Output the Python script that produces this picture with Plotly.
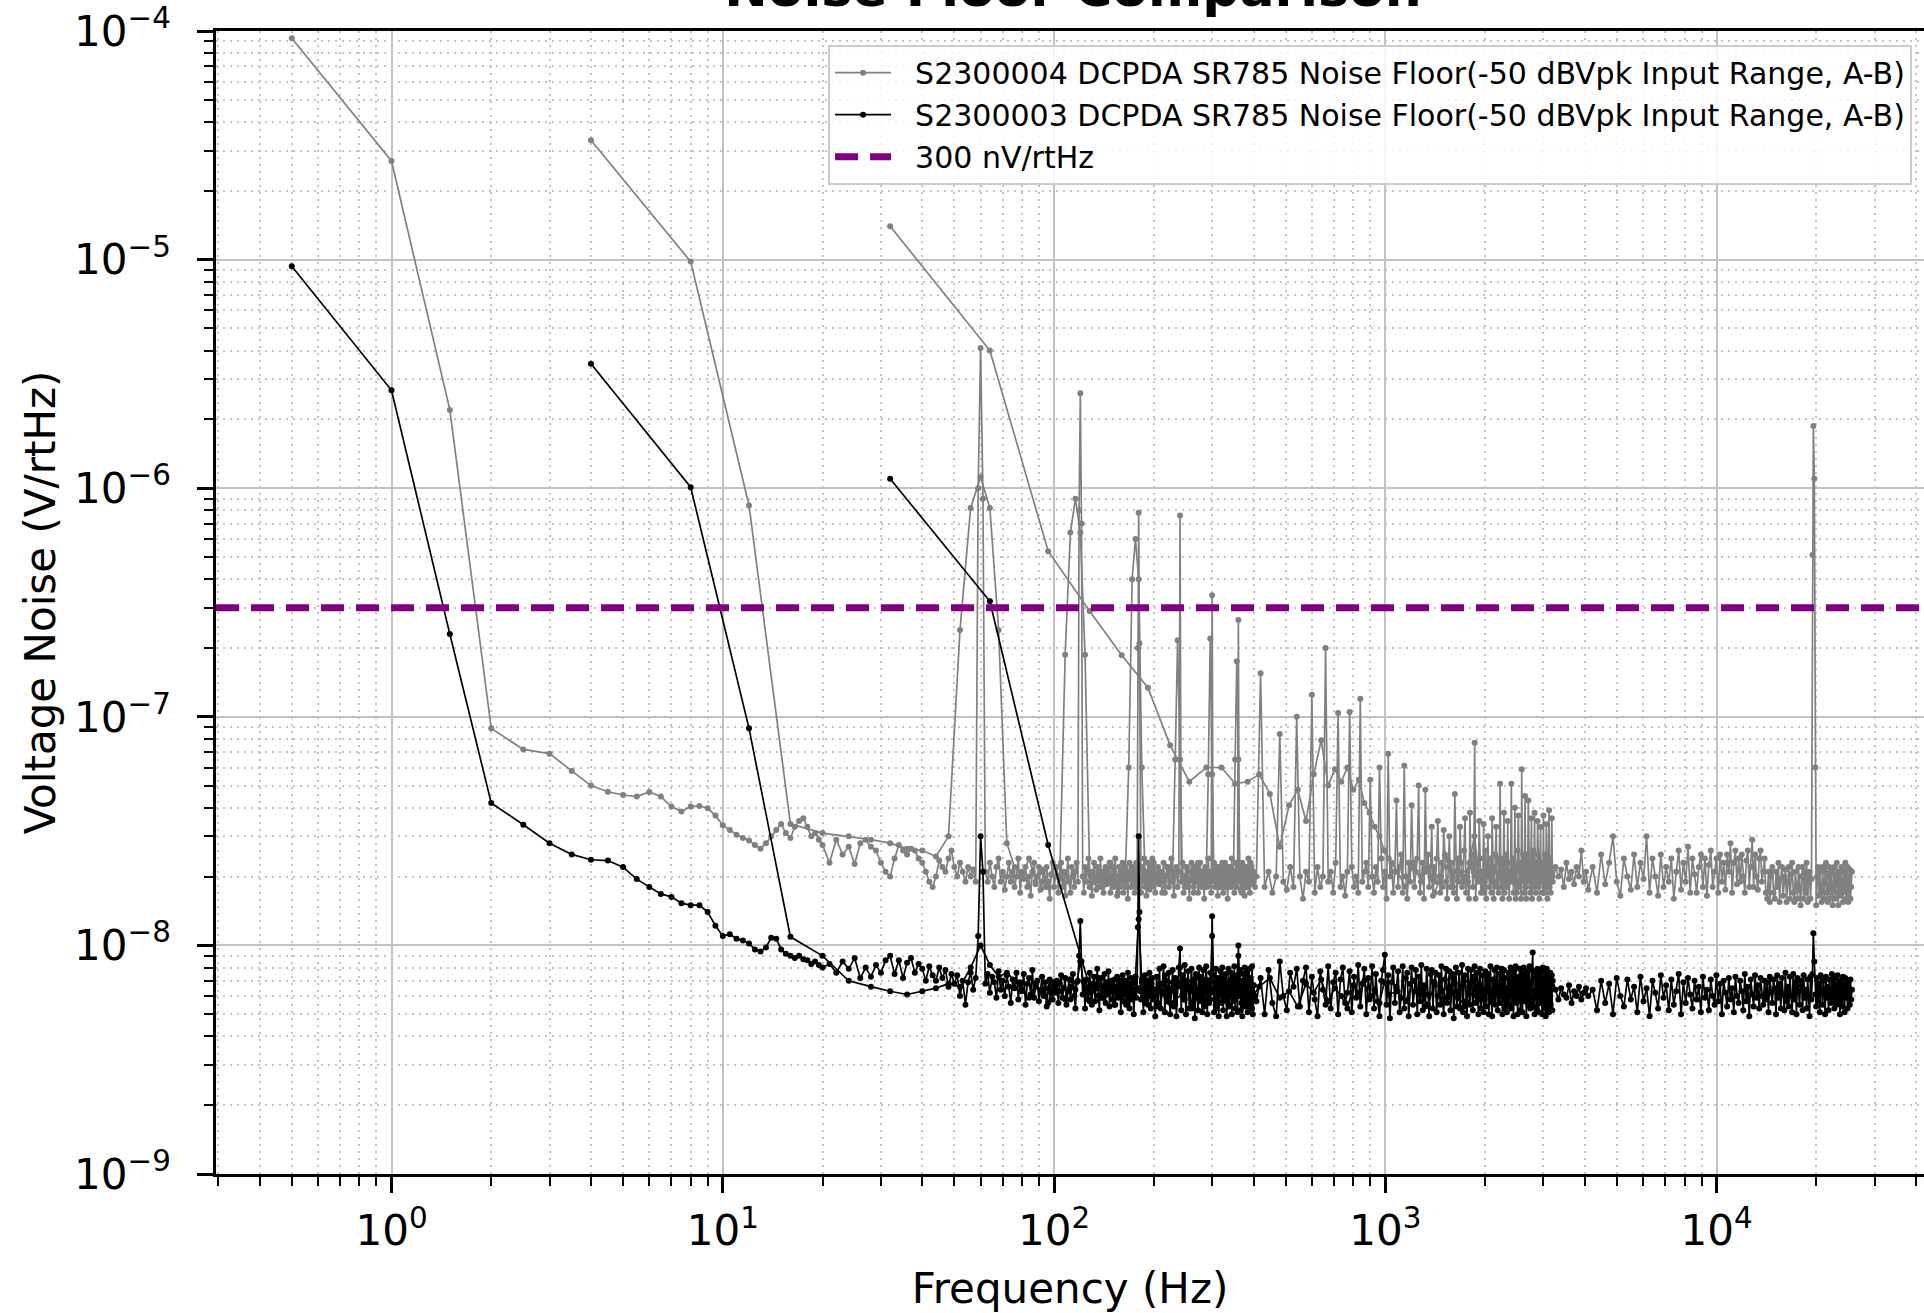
import math
import plotly.graph_objects as go

# ---------------- data (values in nV/rtHz) ----------------
# Segment A: 0.5 Hz resolution span (0.5 .. 400 Hz), shown here as three sub-grids
A1_START, A1_STEP = 0.5, 0.5
A2_START, A2_STEP = 21, 1
A3_START, A3_STEP = 202, 2
# Segment B: 4 Hz resolution span (4 .. 3200 Hz)
B1_START, B1_STEP = 4, 4
B2_START, B2_STEP = 420, 12
# Segment C: 32 Hz resolution span (32 .. 25600 Hz)
C1_START, C1_STEP = 32, 32
C2_START, C2_STEP = 1088, 64
C3_START, C3_STEP = 4224, 128

GRAY_A1 = [93000, 27000, 2200, 89, 72, 69, 58, 50, 47, 45.5,
           44.8, 46.9, 44.8, 40.5, 38.5, 40.5, 40.7, 39.8, 37, 33.5,
           32, 30.5, 29.5, 28.8, 27.5, 26.5, 28, 30, 32, 34,
           31, 29.5, 33, 35, 36, 33, 30, 31, 29, 27.5]
GRAY_A2 = [23, 29, 25, 27, 22.7, 28, 29, 27, 26, 23,
           21, 20, 24, 27.5, 26, 25, 26.5, 26, 24, 23,
           21, 19, 18, 20, 23.5, 22, 21, 24, 26, 22,
           20, 23, 21, 19, 22, 20, 21.5, 19, 1000, 4100,
           900, 21, 19, 23, 20, 18, 22, 24, 19, 21,
           17.5, 20, 23, 19, 21, 18, 20, 24, 17, 21,
           19.5, 22, 18, 20, 16.5, 21, 23, 18.5, 20, 22,
           17.5, 19, 21.5, 18, 22, 19, 16, 20.5, 23, 18,
           20, 22, 17, 19.5, 23, 18, 21, 16.5, 20, 24,
           19, 17, 22, 20, 18, 21, 23, 19, 800, 2600,
           700, 20, 17, 22, 19, 21, 24, 18, 20, 16.5,
           21, 23, 19, 17.5, 22, 20, 18, 24, 19, 21,
           17, 20, 22, 18.5, 21, 19, 23, 17, 20, 22,
           18, 21, 24, 19, 16.5, 20, 22, 18, 21, 19,
           23, 17, 20, 22, 18, 21, 16, 19.5, 23, 20,
           18, 22, 19, 21, 17, 20, 23, 18, 200, 780,
           210, 20, 17, 22, 19, 21, 24, 18, 20, 16.5,
           21, 23, 19, 17.5, 22, 20, 18, 24, 19, 21]
GRAY_A3 = [17, 20, 22, 18.5, 21, 19, 23, 17, 20, 22,
           18, 21, 24, 19, 16.5, 20, 22, 18, 21, 760,
           19, 23, 17, 20, 22, 18, 21, 16, 19.5, 23,
           20, 18, 22, 19, 21, 17, 20, 23, 18, 21,
           19, 16, 22, 20, 18, 24, 19, 21, 17, 340,
           20, 23, 18, 21, 19, 16.5, 22, 20, 18, 21,
           23, 17, 20, 22, 18, 21, 16, 19, 22, 20,
           18, 24, 19, 21, 17, 20, 23, 18, 21, 265,
           19, 22, 17.5, 20, 23, 18, 21, 16.5, 20, 22,
           18, 21, 24, 19, 17, 20, 22, 18.5, 21, 19]
GRAY_B1 = [33300, 9800, 840, 34, 31, 30, 29, 28, 26.5, 26,
           24.5, 30, 240, 820, 1120, 820, 240, 28, 22, 20,
           24, 19, 21, 18, 22, 20, 187, 640, 900, 640,
           187, 21, 19, 22, 18, 20, 23, 19, 17, 21,
           20, 60, 400, 600, 400, 60, 21, 18, 20, 23,
           19, 21, 17, 20, 22, 19, 21, 65, 216, 65,
           20, 18, 22, 19, 21, 17, 20, 23, 19, 21,
           18, 20, 56, 220, 56, 19, 22, 20, 18, 21,
           19, 23, 18, 20, 22, 19, 21, 65, 175, 65,
           20, 17, 22, 19, 21, 18, 20, 23, 19, 21,
           18, 20]
GRAY_B2 = [155, 18, 21, 17, 20,   84, 19, 17.5, 22, 18,   100, 20, 16, 21, 19,
           125, 17, 22, 18, 20,   200, 19, 21, 17, 23,    104, 18, 20, 16.5, 21,
           105, 22, 18, 20, 17,   120, 19, 21, 23, 18,    53, 20, 17, 22, 19,
           60, 24, 18, 21, 16,    69, 20, 23, 17, 21,     43, 18, 22, 25, 17,
           61, 20, 16, 23, 19,    41, 22, 18, 21, 24,     50, 17, 20, 23, 16,
           48, 21, 25, 18, 20,    33, 16.5, 22, 19, 24,   35, 20, 17, 23, 18,
           32, 25, 19, 16, 22,    30, 18, 23, 20, 17,     46, 21, 16, 24, 19,
           33, 23, 18, 20, 26,    36, 17, 21, 19, 16,     38, 22, 25, 18, 21,
           77, 16, 20, 23, 19,    35, 24, 17, 21, 18,     34, 19, 26, 16, 22,
           30, 20, 18, 24, 17,    36, 22, 16, 19, 25,     33, 18, 21, 17, 23,
           51, 20, 24, 16, 19,    38, 17, 22, 25, 18,     35, 21, 16, 20, 23,
           51, 19, 24, 17, 21,    40, 16, 22, 19, 26,     37, 23, 18, 21, 16,
           59, 20, 25, 17, 22,    45, 18, 16, 23, 20,     43, 24, 19, 17, 21,
           36, 16, 22, 26, 18,    38, 20, 17, 23, 19,     35, 25, 18, 16, 22,
           33, 19, 23, 20, 17,    37, 17, 21, 25, 18,     34, 22, 16, 19, 24,
           39, 18, 23, 17, 21,    36, 20]
GRAY_C1 = [14000, 4000, 530, 290, 186, 134, 75, 52, 60, 60,
           51, 52, 56, 46, 27, 41, 48, 35, 56, 79,
           50, 59, 52, 60, 48, 53, 42, 38, 33, 30,
           26, 24]
GRAY_C2 = [21, 18, 23, 19, 22, 17, 20, 24, 18, 21,
           19, 23, 30, 20, 17, 22, 19, 24, 18, 21,
           20, 23, 17, 22, 19, 25, 18, 21, 19, 23,
           17, 21, 24, 19, 22, 20, 21.5, 18, 23, 19.5,
           21, 18.5, 22, 20, 26, 19, 21, 17.5]
GRAY_C3 = [22, 17, 25, 18.5, 23, 30, 19, 16.5, 24, 20, 17.5, 25,
           18, 23, 19.5, 30, 17, 24, 20, 16.5, 25, 18, 22, 19,
           24, 16, 21, 26, 17.5, 23, 19, 27, 17, 24, 20.5, 17,
           22, 25, 18, 24, 16.5, 22.5, 26, 18, 21, 24, 17, 25,
           19, 23, 17.5, 25, 21, 28, 17, 23, 26, 18.5, 24, 19,
           25, 20, 17, 23.5, 26, 18, 22, 29, 18, 25, 20, 17.5,
           24, 26, 19, 21, 24, 17, 16, 21, 15.5, 20, 22, 17,
           16, 21, 18, 23, 15.5, 19.5, 22, 16.5, 20, 21.5, 15.5, 19,
           22, 16, 20.5, 23, 17, 15.5, 21, 18, 16, 22, 17.5, 15,
           20, 22, 16, 21, 17, 23, 15.5, 20, 21, 16, 19.5, 510,
           1870, 1100, 60, 15, 20, 22, 16.5, 21, 17, 15.5, 22, 18.5,
           16, 21, 23, 17, 15.5, 20, 22, 16, 21, 17.5, 15, 20.5,
           22, 16, 20, 23, 17, 15, 21, 19.5, 16.5, 22, 17, 15.5,
           21, 18, 23, 16, 17.5, 22, 15.5, 20, 21.5, 16, 18, 21]

BLACK_A1 = [9350, 2680, 230, 42, 33.7, 28, 25, 23.7, 23.5, 22,
            19.5, 18, 16.8, 16.3, 15.3, 15, 15, 14, 12.2, 11,
            11.2, 10.7, 10.5, 10.2, 9.6, 9.4, 9.8, 10.8, 10.7, 9.6,
            9.2, 9.0, 8.8, 9.0, 8.7, 8.6, 8.3, 8.5, 8.2, 8.0]
BLACK_A2 = [8.3, 7.6, 8.5, 7.9, 8.8, 7.2, 8.0, 7.3, 8.2, 7.6,
            8.6, 9.0, 7.5, 8.6, 7.2, 8.4, 8.8, 7.6, 8.3, 7.9,
            7.0, 8.1, 7.4, 7.0, 8.0, 7.2, 7.8, 6.6, 7.5, 6.8,
            7.4, 6.0, 7.0, 5.5, 6.9, 7.6, 6.4, 7.2, 11, 30,
            21, 6.8, 7.5, 6.2, 7.3, 6.9, 5.9, 7.7, 6.4, 7.0,
            6.0, 7.4, 6.6, 5.6, 7.1, 6.5, 7.6, 5.8, 6.9, 6.3,
            7.5, 5.5, 6.8, 7.2, 6.1, 7.8, 5.9, 6.6, 7.0, 5.7,
            6.4, 7.3, 6.0, 6.9, 5.4, 6.5, 7.1, 6.2, 5.8, 6.7,
            6.2, 7.0, 5.6, 6.8, 7.4, 5.9, 6.5, 7.2, 5.5, 6.3,
            7.1, 5.8, 6.6, 7.5, 6.0, 5.3, 6.9, 7.0, 9.0, 12.8,
            8.5, 6.1, 6.9, 5.3, 7.1, 6.4, 5.8, 7.6, 6.2, 5.5,
            6.8, 7.3, 5.7, 6.5, 7.9, 6.0, 5.2, 6.7, 7.2, 5.9,
            6.4, 7.5, 5.6, 6.9, 6.1, 7.7, 5.4, 6.6, 7.0, 5.8,
            6.3, 7.1, 5.5, 6.5, 7.3, 5.9, 6.2, 7.0, 5.1, 6.8,
            7.4, 5.7, 6.2, 7.0, 5.5, 6.6, 7.6, 6.0, 5.3, 6.8,
            7.2, 5.8, 6.4, 5.0, 6.9, 7.3, 5.9, 6.5, 12, 30,
            14, 6.3, 5.8, 7.1, 6.5, 5.1, 6.9, 7.4, 5.7, 6.2,
            7.0, 5.5, 6.6, 7.6, 6.0, 5.3, 6.8, 7.2, 5.8, 6.4]
BLACK_A3 = [4.9, 7.3, 5.6, 7.9, 5.3, 6.8, 8.1, 5.1, 7.0, 5.7,
            7.6, 5.0, 6.5, 7.8, 5.4, 7.2, 4.9, 6.9, 8.0, 9.7,
            5.2, 7.4, 5.8, 8.2, 5.0, 6.7, 7.7, 5.3, 6.3, 7.9,
            5.5, 7.1, 4.8, 7.5, 6.0, 5.2, 8.0, 5.7, 7.3, 5.1,
            7.8, 5.4, 6.6, 8.1, 5.0, 7.0, 5.6, 7.6, 6.2, 13.4,
            7.4, 5.1, 6.9, 7.9, 5.3, 7.2, 4.9, 6.5, 7.7, 5.6,
            8.0, 5.2, 7.1, 5.8, 7.5, 4.9, 6.8, 7.9, 5.4, 6.3,
            7.6, 5.0, 7.3, 5.7, 8.1, 5.3, 6.6, 7.4, 5.1, 10,
            6.0, 7.8, 5.2, 7.0, 4.9, 7.5, 5.8, 8.0, 5.4, 6.9,
            7.7, 5.1, 6.4, 7.9, 5.3, 7.2, 5.6, 8.1, 5.0, 6.7]
BLACK_B1 = [3500, 1010, 89, 10.9, 9.0, 7.0, 6.6, 6.3, 6.1, 6.3,
            6.5, 6.8, 6.6, 8.0, 10, 8.2, 7.3, 7.6, 7.0, 6.4,
            5.9, 6.8, 6.2, 5.6, 6.9, 6.3, 5.8, 7.1, 6.4, 8.5,
            6.2, 5.7, 6.6, 7.2, 5.9, 6.3, 6.9, 5.5, 6.7, 6.1,
            7.0, 5.8, 6.4, 7.3, 13, 6.9, 5.6, 6.5, 7.1, 6.0,
            5.4, 6.8, 6.2, 7.4, 5.7, 6.3, 6.9, 5.5, 6.6, 8.0,
            6.1, 5.8, 7.0, 6.4, 5.3, 6.7, 7.2, 5.9, 6.3, 6.8,
            5.6, 7.1, 6.2, 5.8, 11, 6.5, 5.4, 6.9, 6.1, 7.3,
            5.7, 6.4, 6.8, 5.5, 7.0, 6.2, 5.9, 6.6, 7.2, 9.0,
            6.3, 5.6, 6.9, 6.1, 7.4, 5.8, 6.5, 7.0, 5.3, 6.7,
            6.0, 5.7]
BLACK_B2 = [7.2, 5.0, 7.8, 5.6, 4.9,   8.5, 6.0, 5.2, 7.6, 6.6,   7.9, 5.4, 7.0, 8.0, 5.1,
            7.3, 5.8, 4.9, 7.7, 6.4,   5.5, 8.1, 5.3, 6.9, 7.6,   5.0, 7.1, 8.0, 5.6, 6.2,
            7.7, 5.1, 7.3, 5.9, 8.2,   5.4, 6.8, 7.9, 5.0, 7.2,   6.0, 8.1, 5.3, 7.5, 5.7,
            4.9, 7.0, 7.8, 9.1, 5.5,   7.4, 4.8, 6.9, 8.0, 5.6,   6.6, 7.7, 5.1, 5.9, 8.1,
            5.3, 7.2, 7.6, 4.9, 6.8,   8.0, 5.5, 6.3, 7.8, 5.0,   7.3, 5.7, 8.2, 5.2, 6.7,
            5.4, 7.9, 6.1, 4.9, 7.5,   7.8, 5.3, 6.9, 7.6, 5.1,   6.0, 7.4, 5.5, 8.1, 5.8,
            5.0, 7.1, 7.9, 5.6, 6.5,   7.7, 5.2, 6.2, 7.5, 4.8,   6.8, 8.0, 5.4, 5.9, 7.6,
            5.3, 6.6, 8.2, 5.1, 7.0,   7.4, 5.7, 4.9, 7.9, 6.1,   5.5, 7.8, 6.9, 5.2, 7.3,
            8.1, 5.6, 6.0, 7.6, 5.0,   6.7, 7.9, 5.3, 6.4, 7.4,   5.1, 5.8, 7.7, 5.4, 7.2,
            7.5, 5.0, 6.3, 8.1, 5.7,   4.9, 7.1, 6.0, 7.8, 5.5,   6.8, 8.0, 5.2, 6.2, 7.5,
            5.6, 6.9, 7.9, 5.0, 6.0,   7.8, 5.4, 7.2, 6.1, 5.1,   6.5, 7.6, 5.5, 6.9, 8.0,
            5.3, 6.2, 7.4, 4.9, 7.7,   5.9, 8.1, 5.6, 6.7, 5.0,   7.3, 6.0, 7.9, 5.2, 6.6,
            7.6, 5.1, 6.8, 8.0, 5.7,   6.1, 7.4, 4.9, 7.0, 7.7,   5.5, 6.4, 8.1, 5.3, 5.9,
            6.9, 7.8, 9.3, 5.4, 6.3,   5.0, 7.2, 7.6, 6.0, 5.2,   7.9, 6.2, 5.1, 7.4, 6.6,
            5.6, 7.7, 6.1, 5.0, 8.0,   6.8, 5.3, 7.1, 7.8, 4.9,   6.2, 7.9, 5.4, 6.9, 7.3,
            5.1, 6.4, 7.6, 5.5, 6.7,   7.4, 5.2]
BLACK_C1 = [1100, 320, 27.5, 6.6, 6.0, 7.0, 5.6, 6.4, 5.8, 6.9,
            6.1, 5.5, 6.6, 7.2, 5.9, 6.3, 5.4, 6.8, 6.2, 7.1,
            5.7, 6.5, 6.0, 5.3, 6.7, 6.2, 7.0, 5.8, 6.4, 5.6,
            6.9, 6.1]
BLACK_C2 = [6.3, 5.7, 7.0, 6.1, 5.5, 6.8, 6.4, 5.9, 7.2, 6.0,
            5.4, 6.6, 7.1, 5.8, 6.3, 6.9, 5.6, 6.2, 7.4, 5.3,
            6.5, 6.0, 7.0, 5.7, 6.4, 6.8, 5.5, 6.1, 7.3, 5.9,
            6.6, 6.2, 5.2, 7.0, 6.4, 5.8, 6.5, 6.1, 5.9, 6.7,
            5.6, 6.3, 6.0, 6.6, 5.8, 6.2, 6.5, 6.0]
BLACK_C3 = [6.4, 5.2, 7.0, 5.6, 6.8, 5.0, 7.2, 6.0, 5.4, 7.1, 5.8, 6.6,
            5.1, 7.3, 5.7, 6.5, 4.9, 7.0, 6.2, 5.3, 7.4, 5.9, 6.7, 5.2,
            7.1, 5.5, 6.3, 7.5, 5.0, 6.9, 5.6, 7.2, 6.1, 5.3, 7.0, 5.8,
            6.6, 5.1, 7.3, 5.9, 6.4, 5.2, 7.1, 6.0, 5.5, 7.4, 5.7, 6.8,
            5.0, 7.0, 6.2, 5.4, 7.2, 5.8, 6.5, 5.1, 7.3, 6.0, 5.6, 7.0,
            6.3, 5.2, 7.5, 5.7, 6.6, 4.9, 7.1, 6.1, 5.4, 7.4, 5.9, 6.7,
            5.3, 7.2, 6.0, 5.5, 7.0, 5.8, 6.9, 5.1, 7.3, 6.2, 5.6, 7.1,
            6.5, 5.0, 7.4, 5.9, 6.8, 5.3, 7.2, 6.1, 5.2, 7.6, 5.7, 6.6,
            5.4, 7.3, 6.0, 5.1, 7.5, 5.8, 6.9, 5.0, 7.2, 6.3, 5.5, 7.0,
            6.7, 5.2, 7.4, 5.9, 6.4, 5.3, 7.1, 6.0, 4.9, 7.3, 5.8, 7.5,
            11.3, 8.5, 6.1, 5.4, 7.2, 5.7, 6.8, 5.1, 7.4, 6.2, 5.5, 7.0,
            6.4, 5.0, 7.3, 5.9, 6.6, 5.2, 7.1, 6.0, 5.6, 7.5, 5.8, 6.9,
            5.3, 7.2, 6.1, 5.5, 7.4, 5.7, 6.7, 5.0, 7.0, 6.3, 5.4, 7.3,
            6.5, 5.1, 7.2, 5.9, 6.8, 5.3, 7.0, 6.2, 5.5, 7.1, 5.8, 6.4]

THRESHOLD_NV = 300
NAME_GRAY = "S2300004 DCPDA SR785 Noise Floor(-50 dBVpk Input Range, A-B)"
NAME_BLACK = "S2300003 DCPDA SR785 Noise Floor(-50 dBVpk Input Range, A-B)"
NAME_LINE = "300 nV/rtHz"
X_TICKS = [1, 10, 100, 1000, 10000]
X_TICKTEXT = ["10<sup>0</sup>", "10<sup>1</sup>", "10<sup>2</sup>", "10<sup>3</sup>", "10<sup>4</sup>"]
Y_TICKS = [1e-9, 1e-8, 1e-7, 1e-6, 1e-5, 1e-4]
Y_TICKTEXT = ["10<sup>\u22129</sup>", "10<sup>\u22128</sup>", "10<sup>\u22127</sup>",
              "10<sup>\u22126</sup>", "10<sup>\u22125</sup>", "10<sup>\u22124</sup>"]

X_MIN, X_MAX = 0.2953, 42250.0
Y_MIN, Y_MAX = 1e-9, 1e-4


def grid(start, step, n):
    return [start + step * i for i in range(n)]


def build(parts_a, parts_b, parts_c):
    xs, ys = [], []
    for seg in (parts_a, parts_b, parts_c):
        if xs:
            xs.append(None)
            ys.append(None)
        for start, step, vals in seg:
            xs += grid(start, step, len(vals))
            ys += [v * 1e-9 for v in vals]
    return xs, ys


gx, gy = build([(A1_START, A1_STEP, GRAY_A1), (A2_START, A2_STEP, GRAY_A2), (A3_START, A3_STEP, GRAY_A3)],
               [(B1_START, B1_STEP, GRAY_B1), (B2_START, B2_STEP, GRAY_B2)],
               [(C1_START, C1_STEP, GRAY_C1), (C2_START, C2_STEP, GRAY_C2), (C3_START, C3_STEP, GRAY_C3)])
bx, by = build([(A1_START, A1_STEP, BLACK_A1), (A2_START, A2_STEP, BLACK_A2), (A3_START, A3_STEP, BLACK_A3)],
               [(B1_START, B1_STEP, BLACK_B1), (B2_START, B2_STEP, BLACK_B2)],
               [(C1_START, C1_STEP, BLACK_C1), (C2_START, C2_STEP, BLACK_C2), (C3_START, C3_STEP, BLACK_C3)])

GAP = "\u00a0\u00a0"
fig = go.Figure()
fig.add_trace(go.Scatter(x=gx, y=gy, mode="lines+markers", name=GAP + NAME_GRAY,
                         line=dict(color="#808080", width=1.7),
                         marker=dict(color="#808080", size=6)))
fig.add_trace(go.Scatter(x=bx, y=by, mode="lines+markers", name=GAP + NAME_BLACK,
                         line=dict(color="black", width=1.7),
                         marker=dict(color="black", size=6)))
fig.add_trace(go.Scatter(x=[X_MIN, X_MAX], y=[THRESHOLD_NV * 1e-9] * 2, mode="lines", name=GAP + NAME_LINE,
                         line=dict(color="#800080", width=7, dash="23px,12px")))

x_minor = [d * 10 ** k for k in range(-1, 5) for d in range(2, 10) if X_MIN < d * 10 ** k < X_MAX]
y_minor = [d * 10.0 ** k for k in range(-9, -4) for d in range(2, 10)]

axis_common = dict(
    type="log", showline=True, linecolor="black", linewidth=2.5,
    ticks="outside", ticklen=16, tickwidth=2.5, tickcolor="black",
    showgrid=True, gridcolor="#c2c2c2", gridwidth=1.8, zeroline=False,
    tickfont=dict(size=42, family="DejaVu Sans", color="black"),
)
minor_common = dict(ticks="outside", ticklen=9, tickwidth=2, tickcolor="black", showgrid=True,
                    gridcolor="#c4c4c4", griddash="2px,5px", gridwidth=1.6)

fig.update_layout(
    width=1924, height=1313,
    margin=dict(l=216, r=0, t=31, b=139, autoexpand=False),
    paper_bgcolor="white", plot_bgcolor="white",
    font=dict(family="DejaVu Sans", color="black"),
    title=dict(text="<b>Noise Floor Comparison</b>", font=dict(size=52, family="DejaVu Sans"),
               x=0.5577, xanchor="center", xref="container",
               y=1 - 6 / 1313, yanchor="bottom", yref="container"),
    showlegend=True,
    legend=dict(x=0.993, xanchor="right", y=0.988, yanchor="top", itemwidth=56,
                bgcolor="rgba(255,255,255,0.85)", bordercolor="#cccccc", borderwidth=2,
                font=dict(size=30, family="DejaVu Sans", color="black")),
    xaxis=dict(axis_common, range=[math.log10(X_MIN), math.log10(X_MAX)], mirror=True,
               tickmode="array", tickvals=X_TICKS, ticktext=X_TICKTEXT, ticklabelstandoff=2,
               minor=dict(minor_common, tickmode="array", tickvals=x_minor),
               title=dict(text="Frequency (Hz)", font=dict(size=42, family="DejaVu Sans"), standoff=22)),
    yaxis=dict(axis_common, range=[math.log10(Y_MIN), math.log10(Y_MAX)], mirror=False,
               tickmode="array", tickvals=Y_TICKS, ticktext=Y_TICKTEXT, ticklabelstandoff=18,
               minor=dict(minor_common, tickmode="array", tickvals=y_minor),
               title=dict(text="Voltage Noise (V/rtHz)", font=dict(size=42, family="DejaVu Sans"), standoff=6)),
)

fig.write_html("out.html")
